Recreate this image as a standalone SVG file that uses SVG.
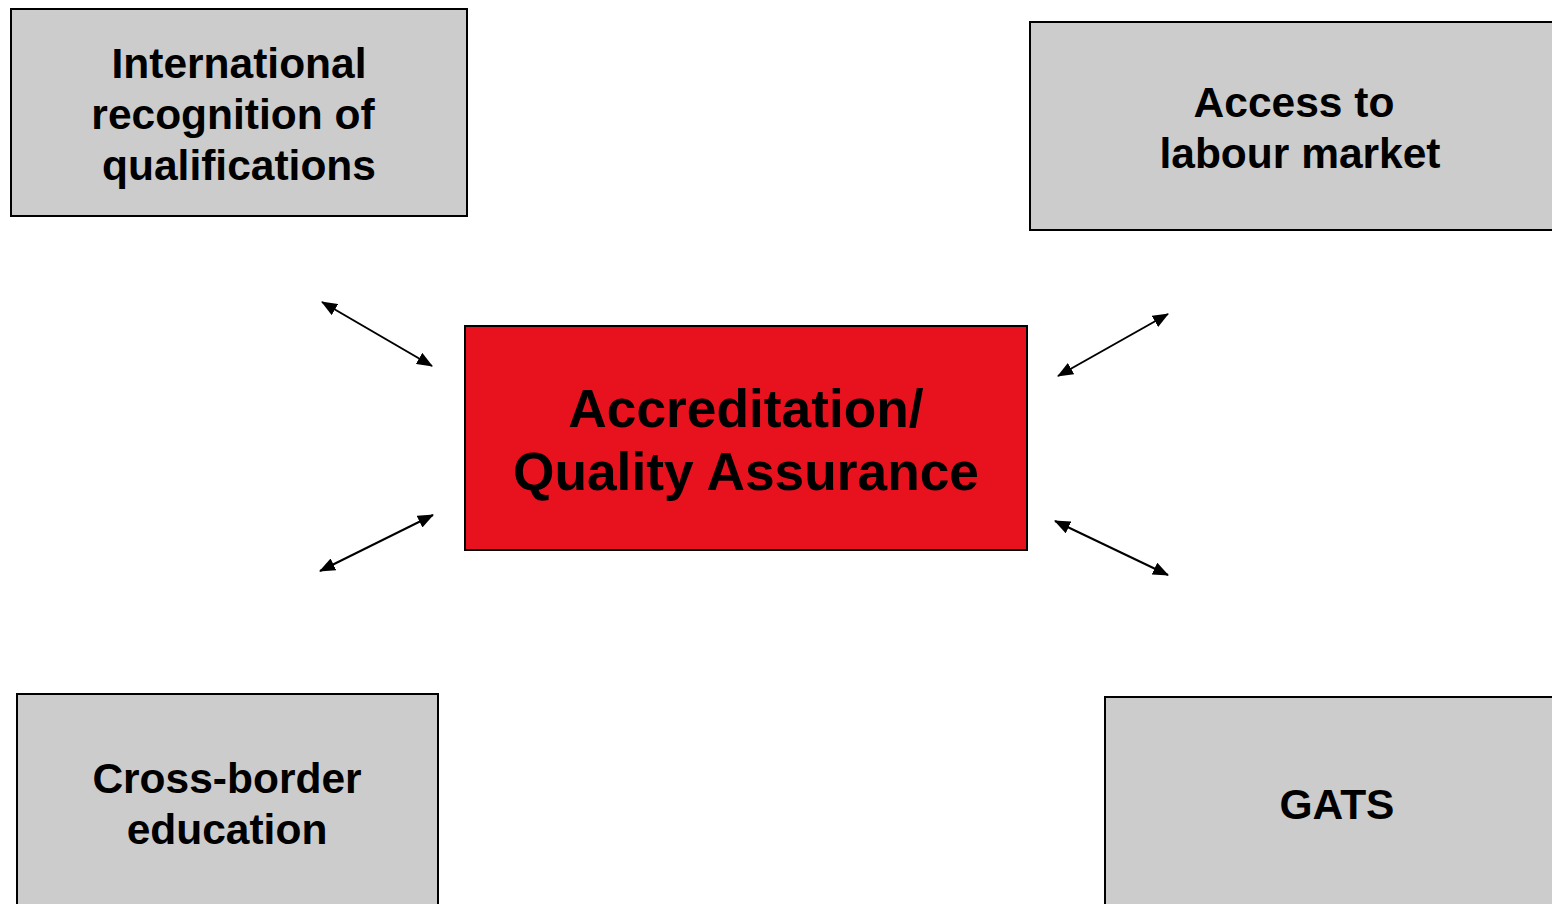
<svg xmlns="http://www.w3.org/2000/svg" width="1552" height="904" viewBox="0 0 1552 904">
<style>
.box{fill:#cccccc;stroke:#000;stroke-width:2}
.center{fill:#e8121f;stroke:#000;stroke-width:2}
.t{font-family:"Liberation Sans",Arial,sans-serif;font-weight:bold;font-size:42.5px;fill:#000;text-anchor:middle}
.tc{font-family:"Liberation Sans",Arial,sans-serif;font-weight:bold;font-size:53.3px;fill:#000;text-anchor:middle}
.c{stroke:#000;stroke-width:2;fill:none;marker-start:url(#ah);marker-end:url(#ah)}
</style>
<defs>
<marker id="ah" viewBox="0 0 16 13" refX="15" refY="6.5" markerWidth="8" markerHeight="6.5" markerUnits="strokeWidth" orient="auto-start-reverse">
<path d="M0,0 L16,6.5 L0,13 z" fill="#000"/>
</marker>
</defs>
<rect width="1552" height="904" fill="#fff"/>
<g id="connectors">
<line class="c" x1="322" y1="302" x2="432" y2="366"/>
<line class="c" x1="433" y1="515" x2="320" y2="571"/>
<line class="c" x1="1058" y1="376" x2="1168" y2="314"/>
<line class="c" x1="1055" y1="521" x2="1168" y2="575"/>
</g>
<g id="intl">
<rect class="box" x="11" y="9" width="456" height="207"/>
<text class="t" x="239" y="78">International</text>
<text class="t" x="233" y="129">recognition of</text>
<text class="t" x="239" y="180">qualifications</text>
</g>
<g id="access">
<rect class="box" x="1030" y="22" width="540" height="208"/>
<text class="t" x="1294" y="117">Access to</text>
<text class="t" x="1300" y="168">labour market</text>
</g>
<g id="aqa">
<rect class="center" x="465" y="326" width="562" height="224"/>
<text class="tc" x="746" y="427">Accreditation/</text>
<text class="tc" x="746" y="490">Quality Assurance</text>
</g>
<g id="crossborder">
<rect class="box" x="17" y="694" width="421" height="230"/>
<text class="t" x="227" y="793">Cross-border</text>
<text class="t" x="227" y="844">education</text>
</g>
<g id="gats">
<rect class="box" x="1105" y="697" width="470" height="230"/>
<text class="t" x="1337" y="819">GATS</text>
</g>
</svg>
